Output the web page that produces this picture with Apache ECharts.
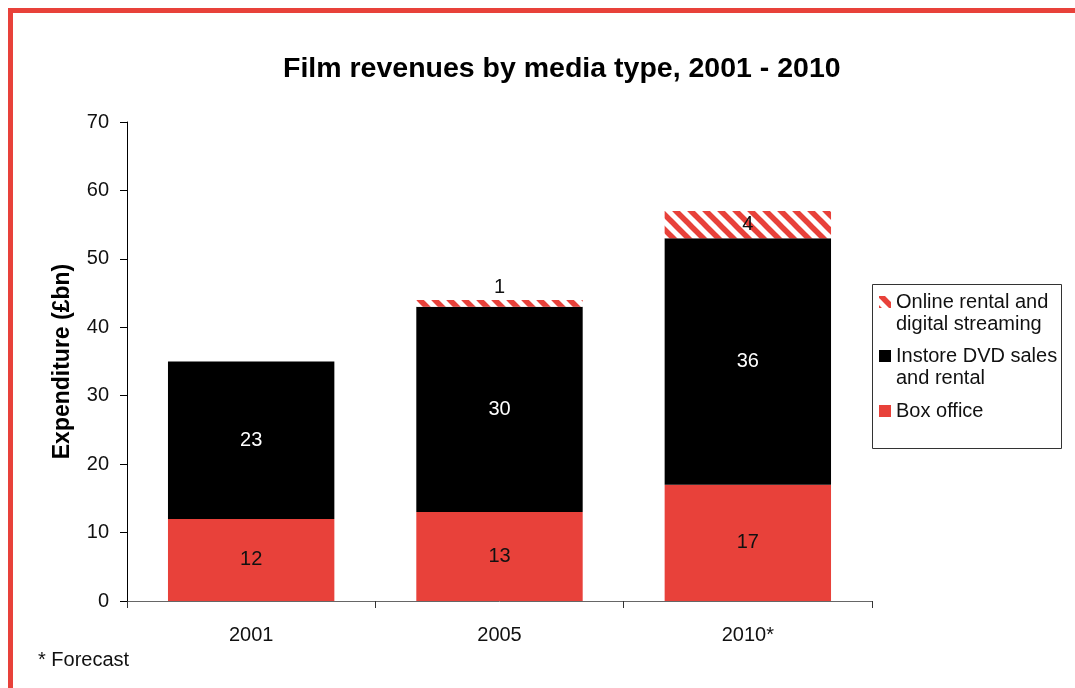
<!DOCTYPE html>
<html>
<head>
<meta charset="utf-8">
<script src="https://cdn.jsdelivr.net/npm/echarts@6/dist/echarts.min.js"></script>
<style>
  html, body { margin: 0; padding: 0; background: #ffffff; }
  #chart { width: 1075px; height: 688px; }
</style>
</head>
<body>
<div id="chart"></div>
<script>
// Film revenues (£bn) by media type
const years = ['2001', '2005', '2010*'];
const boxOffice = [12, 13, 17];
const instore = [23, 30, 36];
const online = ['-', 1, 4];
const seriesNames = ['Box office', 'Instore DVD sales\nand rental', 'Online rental and\ndigital streaming'];
const yTickMin = 0, yTickMax = 70, yTickStep = 10;

const FONT = '"Liberation Sans", Arial, sans-serif';
const RED = '#e8413a';

// Diagonal red/white stripe tile used for the online segment
function stripeTile() {
  const P = 15;
  const c = document.createElement('canvas');
  c.width = P; c.height = P;
  const g = c.getContext('2d');
  g.fillStyle = '#ffffff';
  g.fillRect(0, 0, P, P);
  g.strokeStyle = RED;
  g.lineWidth = 5.5;
  for (let k = -1; k <= 1; k++) {
    g.beginPath();
    g.moveTo(-2, k * P - 2);
    g.lineTo(P + 2, P + k * P + 2);
    g.stroke();
  }
  return c;
}
const stripes = { image: stripeTile(), repeat: 'repeat' };

const chart = echarts.init(document.getElementById('chart'), null, { renderer: 'canvas' });

const labelBase = { show: true, fontFamily: FONT, fontSize: 20, color: '#111' };

// Legend drawn as a boxed list, top entry first
const legendEntries = [
  { name: seriesNames[2], fill: stripes, cy: 302 },
  { name: seriesNames[1], fill: '#000000', cy: 356 },
  { name: seriesNames[0], fill: RED, cy: 411 }
];
const legendChildren = [
  { type: 'rect', shape: { x: 872.5, y: 284.5, width: 189, height: 164 },
    style: { fill: '#fff', stroke: '#333', lineWidth: 1 } }
];
legendEntries.forEach(e => {
  legendChildren.push({ type: 'rect', shape: { x: 879, y: e.cy - 6, width: 12, height: 12 }, style: { fill: e.fill } });
  legendChildren.push({ type: 'text', x: 896, y: e.cy - 11,
    style: { text: e.name, font: '20px ' + FONT, fill: '#111', lineHeight: 22, textVerticalAlign: 'top' } });
});

const option = {
  backgroundColor: '#ffffff',
  animation: false,
  title: {
    text: 'Film revenues by media type, 2001 - 2010',
    left: 283, top: 55, padding: 0,
    textStyle: { fontFamily: FONT, fontSize: 28.5, fontWeight: 'bold', color: '#000' }
  },
  grid: { left: 127, right: 203, top: 122, bottom: 87 },
  xAxis: {
    type: 'category',
    data: years,
    axisLine: { lineStyle: { color: '#666', width: 1 } },
    axisTick: { show: true, length: 7, inside: false, lineStyle: { color: '#333' } },
    axisLabel: { fontFamily: FONT, fontSize: 20, color: '#111', margin: 24 }
  },
  yAxis: {
    type: 'value',
    min: yTickMin, max: yTickMax, interval: yTickStep,
    name: 'Expenditure (£bn)',
    nameLocation: 'middle',
    nameGap: 53,
    nameTextStyle: { fontFamily: FONT, fontSize: 23, fontWeight: 'bold', color: '#000' },
    axisLine: { show: true, lineStyle: { color: '#000', width: 1 } },
    axisTick: { show: true, length: 7, lineStyle: { color: '#000' } },
    axisLabel: { fontFamily: FONT, fontSize: 20, color: '#111', margin: 18 },
    splitLine: { show: false }
  },
  series: [
    {
      name: seriesNames[0], type: 'bar', stack: 'total', barWidth: '67%',
      data: boxOffice,
      itemStyle: { color: RED },
      label: Object.assign({}, labelBase, { position: 'inside' })
    },
    {
      name: seriesNames[1], type: 'bar', stack: 'total', barWidth: '67%',
      data: instore,
      itemStyle: { color: '#000000' },
      label: Object.assign({}, labelBase, { position: 'inside', color: '#ffffff' })
    },
    {
      name: seriesNames[2], type: 'bar', stack: 'total', barWidth: '67%',
      data: online.map((v, i) => (i === 1 ? { value: v, label: { position: 'top', distance: 2 } } : v)),
      itemStyle: { color: stripes },
      label: Object.assign({}, labelBase, { position: 'inside' })
    }
  ],
  graphic: [
    // red frame along the top and left edges
    { type: 'rect', shape: { x: 8, y: 8, width: 1067, height: 5 }, style: { fill: RED } },
    { type: 'rect', shape: { x: 8, y: 8, width: 5, height: 680 }, style: { fill: RED } },
    { type: 'text', x: 38, y: 650,
      style: { text: '* Forecast', font: '20px ' + FONT, fill: '#111', textVerticalAlign: 'top' } },
    { type: 'group', children: legendChildren }
  ]
};

chart.setOption(option);
</script>
</body>
</html>
